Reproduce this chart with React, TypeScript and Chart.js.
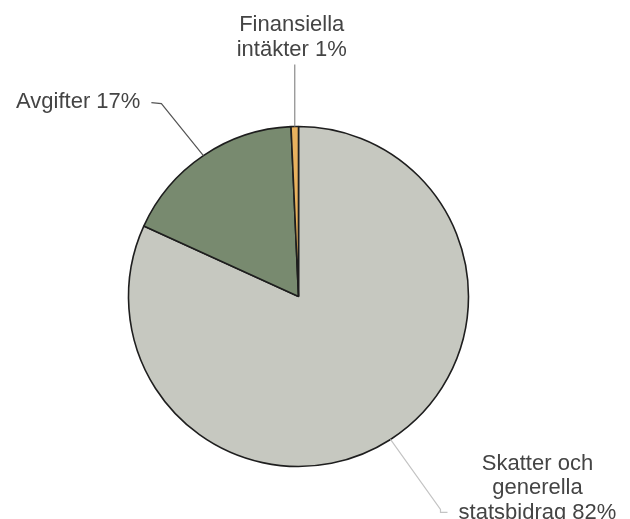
import React, { useEffect, useRef } from "react";
import { Chart, registerables } from "chart.js";

Chart.register(...registerables);

const categories = ["Skatter och generella statsbidrag", "Avgifter", "Finansiella intäkter"];
const values = [81.8, 17.5, 0.7];
const labelLines = [
  ["Skatter och", "generella", "statsbidrag 82%"],
  ["Avgifter 17%"],
  ["Finansiella", "intäkter 1%"],
];
const colors = ["#c6c8c0", "#788a6f", "#e8b15e"];

// leader/label layout (style only): offsets relative to each slice's outer edge midpoint
const labelLayout = [
  { path: [[0, 0], [50, 70], [50, 73], [57, 73]], color: "#c4c4c4", tx: 147, ty: 24, align: "center" as CanvasTextAlign, lh: 24.5 },
  { path: [[0, 0], [-42, -52], [-52, -53]], color: "#555555", tx: -63, ty: -54, align: "right" as CanvasTextAlign, lh: 25 },
  { path: [[0, 0], [0, -62]], color: "#8a8a8a", tx: -3, ty: -102, align: "center" as CanvasTextAlign, lh: 25 },
];

const labelPlugin = {
  id: "leaderLabels",
  afterDraw(chart: any) {
    const ctx = chart.ctx;
    const meta = chart.getDatasetMeta(0);
    meta.data.forEach((arc: any, i: number) => {
      const { x, y, startAngle, endAngle, outerRadius } = arc.getProps(
        ["x", "y", "startAngle", "endAngle", "outerRadius"],
        true
      );
      const mid = (startAngle + endAngle) / 2;
      const ex = x + Math.cos(mid) * outerRadius;
      const ey = y + Math.sin(mid) * outerRadius;
      const L = labelLayout[i];
      ctx.save();
      ctx.strokeStyle = L.color;
      ctx.lineWidth = 1.2;
      ctx.beginPath();
      L.path.forEach(([dx, dy], k) => {
        if (k === 0) ctx.moveTo(ex + dx, ey + dy);
        else ctx.lineTo(ex + dx, ey + dy);
      });
      ctx.stroke();
      ctx.fillStyle = "#444444";
      ctx.font = "22px 'Liberation Sans', Arial, sans-serif";
      ctx.textAlign = L.align;
      ctx.textBaseline = "middle";
      labelLines[i].forEach((t, k) => {
        ctx.fillText(t, ex + L.tx, ey + L.ty + k * L.lh);
      });
      ctx.restore();
    });
  },
};

export default function App() {
  const ref = useRef<HTMLCanvasElement>(null);
  useEffect(() => {
    if (!ref.current) return;
    const chart = new Chart(ref.current, {
      type: "pie",
      data: {
        labels: categories,
        datasets: [
          {
            data: values,
            backgroundColor: colors,
            borderColor: "#1e1e1e",
            borderWidth: 1.6,
          },
        ],
      },
      options: {
        responsive: false,
        animation: false,
        layout: { padding: { left: 127.5, right: 160.5, top: 125.7, bottom: 51.7 } },
        plugins: {
          legend: { display: false },
          tooltip: { enabled: false },
        },
      },
      plugins: [labelPlugin],
    });
    return () => chart.destroy();
  }, []);
  return (
    <div style={{ position: "fixed", left: 0, top: 0, width: 630, height: 519, background: "#fff" }}>
      <canvas ref={ref} width={630} height={519} style={{ width: 630, height: 519 }} />
    </div>
  );
}
